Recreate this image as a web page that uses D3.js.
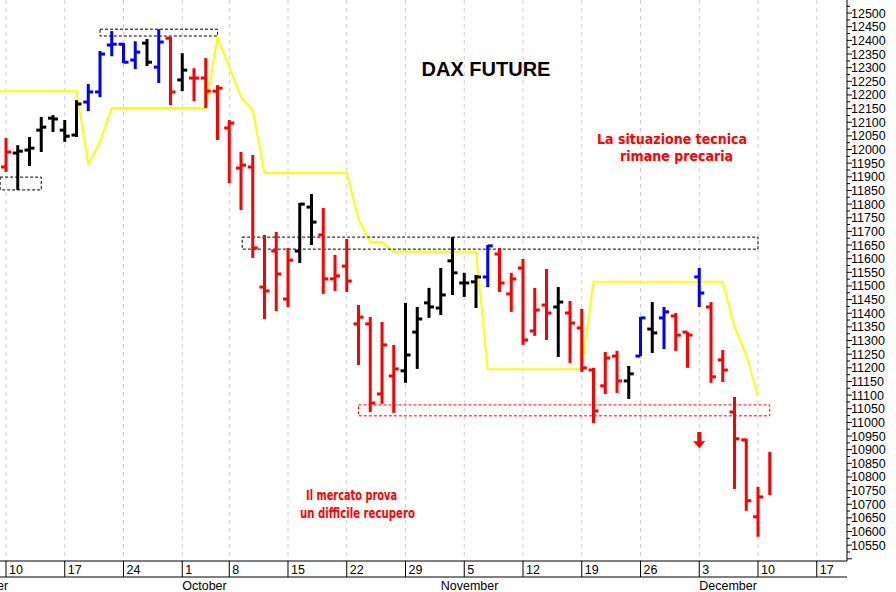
<!DOCTYPE html>
<html><head><meta charset="utf-8">
<script src="https://cdn.jsdelivr.net/npm/d3@7"></script>
<style>body{margin:0;background:#fff}</style></head>
<body><svg id="c" width="896" height="592"></svg>
<script>
// trading-day labels (weekly)
const weekTicks = [{i:0,l:"10"},{i:5,l:"17"},{i:10,l:"24"},{i:15,l:"1"},{i:19,l:"8"},{i:24,l:"15"},{i:29,l:"22"},{i:34,l:"29"},{i:39,l:"5"},{i:44,l:"12"},{i:49,l:"19"},{i:54,l:"26"},{i:59,l:"3"},{i:64,l:"10"},{i:69,l:"17"}];
const months = [{i:-0.5,l:"September"},{i:15,l:"October"},{i:37,l:"November"},{i:59,l:"December"}];
const colors = "rkkkkkkbbbbbkbrkrrrrrrrrrkkrrrrrrrkkkkkkkbrrrrrkrrrrrkbkbrrbrrrrrr";
const opens  = [11936,11987,11998,12071,12115,12071,12053,12174,12211,12383,12386,12328,12390,12302,12408,12255,12262,12262,12214,12079,11932,11936,11496,11628,11452,11628,11789,11687,11526,11573,11361,11361,11104,11170,11189,11331,11438,11419,11592,11511,11515,11533,11617,11471,11566,11335,11430,11423,11401,11346,11192,11134,11243,11152,11243,11342,11383,11390,11331,11533,11423,11229,11038,10936,10654,null];
const highs  = [12042,12016,12046,12119,12126,12108,12181,12240,12361,12434,12390,12397,12405,12441,12412,12353,12298,12335,12236,12108,11991,11980,11687,11698,11639,11804,11837,11786,11614,11672,11430,11386,11368,11284,11438,11423,11493,11566,11679,11548,11540,11650,11639,11548,11599,11493,11562,11496,11445,11416,11200,11258,11262,11207,11386,11441,11423,11401,11331,11566,11441,11265,11093,10940,10764,10892];
const lows   = [11918,11852,11940,11991,12064,12028,12046,12141,12192,12342,12317,12295,12306,12244,12163,12214,12178,12152,12035,11877,11778,11603,11379,11408,11423,11584,11650,11471,11482,11478,11210,11038,11068,11035,11145,11196,11383,11394,11467,11460,11419,11496,11478,11405,11284,11317,11302,11240,11218,11185,10998,11104,11108,11086,11243,11254,11269,11262,11200,11423,11145,11148,10756,10676,10581,10734];
const closes = [11991,11994,12005,12082,12112,12049,12167,12211,12350,12386,12320,12357,12320,12394,12211,12291,12262,12214,12225,12097,11943,11639,11482,11544,11595,11800,11734,11526,11537,11518,11386,11071,11284,11196,11247,11379,11423,11467,11548,11511,11533,11647,11511,11526,11302,11412,11401,11441,11364,11200,11042,11236,11152,11178,11383,11328,11405,11320,11320,11474,11167,11192,10940,10713,10727,null];
const yellowIdx = [-1,0,1,2,3,4,5,6,7,8,9,10,11,12,13,14,15,16,17,18,19,20,21,22,23,24,25,26,27,28,29,30,31,32,33,34,35,36,37,38,39,40,41,42,43,44,45,46,47,48,49,50,51,52,53,54,55,56,57,58,59,60,61,62,63,64];
const yellowVal = [12214,12214,12214,12214,12214,12214,12214,12214,11947,12028,12152,12152,12152,12152,12152,12152,12152,12152,12152,12412,12302,12192,12145,11914,11914,11914,11914,11914,11914,11914,11914,11745,11661,11661,11625,11625,11625,11625,11625,11625,11625,11625,11195,11195,11195,11195,11195,11195,11195,11195,11195,11515,11515,11515,11515,11515,11515,11515,11515,11515,11515,11515,11515,11350,11247,11097];
const boxes = [{i0:-0.5,i1:3,p0:11899,p1:11852,c:"#000"},{i0:8,i1:18,p0:12441,p1:12416,c:"#000"},{i0:20.1,i1:64,p0:11679,p1:11635,c:"#000"},{i0:30,i1:65,p0:11064,p1:11024,c:"#f00"}];
const yTicks = d3.range(10550,12501,50);

const svg=d3.select("#c");
const W=847,H=561;
const x=d3.scaleLinear().domain([0,64]).range([6,758]);
const y=d3.scaleLinear().domain([10492,12548]).range([H,0]);
const g=svg.append("g");
svg.append("defs").append("clipPath").attr("id","cp").append("rect").attr("width",W).attr("height",H);
g.selectAll(".gr").data(weekTicks).join("line").attr("x1",d=>x(d.i)).attr("x2",d=>x(d.i)).attr("y1",0).attr("y2",H)
 .attr("stroke","#ccccee").attr("stroke-dasharray","4,4").attr("stroke-width",1);
const p=g.append("g").attr("clip-path","url(#cp)");
p.append("path").datum(yellowIdx.map((d,k)=>[d,yellowVal[k]]))
 .attr("d",d3.line().x(d=>x(d[0])).y(d=>y(d[1]))).attr("fill","none").attr("stroke","#ffff00").attr("stroke-width",2);
p.selectAll(".bx").data(boxes).join("rect").attr("x",d=>x(d.i0)).attr("width",d=>x(d.i1)-x(d.i0))
 .attr("y",d=>y(d.p0)).attr("height",d=>y(d.p1)-y(d.p0)).attr("fill","none").attr("stroke",d=>d.c).attr("stroke-dasharray","3,2").attr("stroke-width",1);
const cmap={r:"#ff0000",k:"#000000",b:"#0000ff"};
highs.forEach((h,i)=>{
  const c=cmap[colors[i]],X=x(i);
  p.append("line").attr("x1",X).attr("x2",X).attr("y1",y(h)).attr("y2",y(lows[i])).attr("stroke",c).attr("stroke-width",3);
  if(opens[i]!=null) p.append("line").attr("x1",X-5).attr("x2",X).attr("y1",y(opens[i])).attr("y2",y(opens[i])).attr("stroke",c).attr("stroke-width",3);
  if(closes[i]!=null) p.append("line").attr("x1",X).attr("x2",X+5).attr("y1",y(closes[i])).attr("y2",y(closes[i])).attr("stroke",c).attr("stroke-width",3);
});
const ax=x(59),at=y(10965),ab=y(10905);
p.append("path").attr("d",`M${ax-2},${at}L${ax+2},${at}L${ax+2},${ab-7}L${ax+6},${ab-7}L${ax},${ab}L${ax-6},${ab-7}L${ax-2},${ab-7}Z`).attr("fill","#ff0000");
svg.append("line").attr("x1",W).attr("x2",W).attr("y1",0).attr("y2",H).attr("stroke","#000");
const minor=d3.range(10500,12551,25);
svg.selectAll(".mt").data(minor).join("line").attr("x1",W).attr("x2",d=>W+(d%50===0?5:3)).attr("y1",d=>y(d)).attr("y2",d=>y(d)).attr("stroke","#000");
svg.selectAll(".yl").data(yTicks).join("text").attr("x",W+4).attr("y",d=>y(d)+4.5).text(d=>d)
 .attr("font-family","Liberation Sans, Arial").attr("font-size",12.5).attr("fill","#000");
svg.append("line").attr("x1",0).attr("x2",W).attr("y1",H).attr("y2",H).attr("stroke","#000");
svg.append("line").attr("x1",0).attr("x2",W).attr("y1",577).attr("y2",577).attr("stroke","#000");
svg.selectAll(".xt").data(weekTicks).join("line").attr("x1",d=>x(d.i)).attr("x2",d=>x(d.i)).attr("y1",H).attr("y2",577).attr("stroke","#000");
svg.selectAll(".xl").data(weekTicks).join("text").attr("x",d=>x(d.i)+3).attr("y",574).text(d=>d.l)
 .attr("font-family","Liberation Sans, Arial").attr("font-size",12.5);
svg.selectAll(".ml").data(months).join("text").attr("x",d=>d.l==="September"?-53:x(d.i)).attr("y",590).text(d=>d.l)
 .attr("font-family","Liberation Sans, Arial").attr("font-size",12.5);
svg.append("text").attr("x",486).attr("y",76).attr("text-anchor","middle").text("DAX FUTURE")
 .attr("font-family","Liberation Sans, Arial").attr("font-weight","bold").attr("font-size",20);
function note(lines){
  const t=svg.append("text").attr("font-family","DejaVu Sans, Verdana").attr("font-weight","bold").attr("font-size",14.5).attr("fill","#ff0000");
  lines.forEach(l=>t.append("tspan").attr("x",l.x).attr("y",l.y).attr("textLength",l.w).attr("lengthAdjust","spacingAndGlyphs").text(l.t));
}
note([{t:"La situazione tecnica",x:597,y:144,w:150},{t:"rimane precaria",x:620,y:161,w:113}]);
note([{t:"Il mercato prova",x:306,y:500,w:91},{t:"un difficile recupero",x:300,y:518,w:115}]);
</script></body></html>
